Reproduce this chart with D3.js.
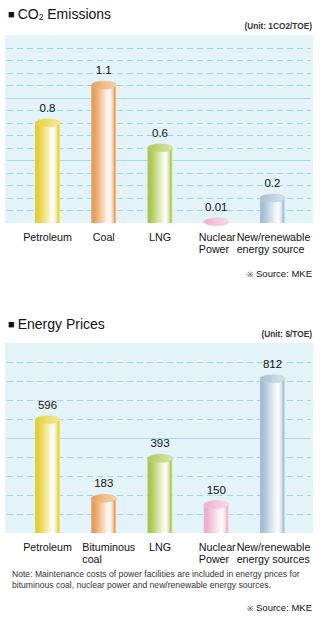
<!DOCTYPE html>
<html>
<head>
<meta charset="utf-8">
<script src="https://cdn.jsdelivr.net/npm/d3@7"></script>
<style>
  html, body { margin: 0; padding: 0; background: #fff; }
  svg { display: block; font-family: "Liberation Sans", Arial, Helvetica, sans-serif; }
</style>
</head>
<body>
<svg id="chart" width="323" height="619"></svg>
<script>
// CO2 emissions by energy source (tCO2/TOE)
const co2Categories = [["Petroleum"], ["Coal"], ["LNG"], ["Nuclear", "Power"], ["New/renewable", "energy source"]];
const co2Values = [0.8, 1.1, 0.6, 0.01, 0.2];
const co2Labels = ["0.8", "1.1", "0.6", "0.01", "0.2"];
const co2Max = 1.5;

// Energy prices by source ($/TOE)
const priceCategories = [["Petroleum"], ["Bituminous", "coal"], ["LNG"], ["Nuclear", "Power"], ["New/renewable", "energy sources"]];
const priceValues = [596, 183, 393, 150, 812];
const priceLabels = ["596", "183", "393", "150", "812"];
const priceMax = 1000;

// Cylinder colours, one per source
const barColors = ["#e4cf32", "#e89e58", "#aac74e", "#eeaec9", "#a3bfd3"];

const svg = d3.select("#chart");
const defs = svg.append("defs");

barColors.forEach((c, i) => {
  const light = d3.interpolateRgb(c, "#ffffff")(0.55);
  const body = defs.append("linearGradient").attr("id", "body" + i)
    .attr("x1", "0%").attr("x2", "100%").attr("y1", "0%").attr("y2", "0%");
  [[0, c], [0.12, c], [0.72, "#ffffff"], [0.86, light], [0.93, c], [1, light]]
    .forEach(([o, col]) => body.append("stop").attr("offset", o).attr("stop-color", col));
  const top = defs.append("linearGradient").attr("id", "top" + i)
    .attr("x1", "0%").attr("x2", "100%").attr("y1", "0%").attr("y2", "0%");
  [[0, c], [0.6, d3.interpolateRgb(c, "#ffffff")(0.35)], [1, light]]
    .forEach(([o, col]) => top.append("stop").attr("offset", o).attr("stop-color", col));
});

function drawChart(cfg) {
  const g = svg.append("g");
  const { top, bottom, left, right } = cfg;

  // section title
  const title = g.append("text").attr("x", 8).attr("y", cfg.titleY)
    .attr("font-size", 14).attr("fill", "#111");
  title.append("tspan").attr("font-size", 11).attr("dy", -1).text("\u25A0");
  title.append("tspan").attr("dx", 3).attr("dy", 1).text(cfg.title);
  if (cfg.titleSub) {
    title.append("tspan").attr("font-size", 8.5).attr("dy", 1).text(cfg.titleSub);
    title.append("tspan").attr("dy", -1).text(cfg.titleRest);
  }

  // unit
  g.append("text").attr("x", 312).attr("y", top - 6).attr("text-anchor", "end")
    .attr("font-size", 8.3).attr("font-weight", "bold").attr("fill", "#333")
    .text(cfg.unit);

  // plot background
  g.append("rect").attr("x", left).attr("y", top)
    .attr("width", right - left).attr("height", bottom - top)
    .attr("fill", "#e4f3f8");

  const y = d3.scaleLinear().domain([0, cfg.max]).range([bottom, top]);
  const x = d3.scalePoint().domain(d3.range(cfg.values.length)).range([47.5, 272.5]);
  const barW = 25;

  // gridlines: dashed every step, solid every fifth
  const ticks = y.ticks(cfg.tickCount).filter(t => t > 0 && t < cfg.max);
  g.append("g").selectAll("line").data(ticks).join("line")
    .attr("x1", left + 2).attr("x2", right - 2)
    .attr("y1", d => Math.round(y(d)) + 0.5).attr("y2", d => Math.round(y(d)) + 0.5)
    .attr("stroke", d => cfg.isMajor(d) ? "#a9dce8" : "#9bd8e6")
    .attr("stroke-width", 1)
    .attr("stroke-dasharray", d => cfg.isMajor(d) ? null : "6,4");

  const rx = barW / 2;
  const ry = 4;
  const bars = g.append("g").selectAll("g").data(cfg.values).join("g");
  bars.append("rect")
    .attr("x", (d, i) => x(i) - rx).attr("width", barW)
    .attr("y", d => y(d)).attr("height", d => bottom - y(d))
    .attr("fill", (d, i) => `url(#body${i})`);
  bars.append("ellipse")
    .attr("cx", (d, i) => x(i)).attr("cy", d => y(d))
    .attr("rx", rx).attr("ry", ry)
    .attr("fill", (d, i) => `url(#top${i})`)
    .attr("stroke", (d, i) => d3.interpolateRgb(barColors[i], "#ffffff")(0.3))
    .attr("stroke-width", 0.6);

  // value labels
  g.append("g").selectAll("text").data(cfg.values).join("text")
    .attr("x", (d, i) => x(i)).attr("y", d => y(d) - ry - 7)
    .attr("text-anchor", "middle").attr("font-size", 11.5).attr("fill", "#111")
    .text((d, i) => cfg.labels[i]);

  // category labels
  const cats = g.append("g").selectAll("text").data(cfg.categories).join("text")
    .attr("font-size", 10.7).attr("fill", "#111")
    .attr("y", bottom + 18);
  cats.each(function (lines, i) {
    const t = d3.select(this);
    const cx = x(i);
    if (lines.length === 1) {
      t.attr("x", cx).attr("text-anchor", "middle").text(lines[0]);
    } else {
      lines.forEach((ln, k) => t.append("tspan").attr("dy", k ? 11.5 : 0).text(ln));
      const w = d3.max(t.selectAll("tspan").nodes(), n => n.getComputedTextLength());
      let x0 = Math.max(cx - w / 2 + (i === 1 ? 5 : 1), 0);
      x0 = Math.min(x0, 317 - w);
      t.selectAll("tspan").attr("x", x0);
    }
  });

  if (cfg.note) {
    const nt = g.append("text").attr("font-size", 8.6).attr("fill", "#333").attr("y", cfg.noteY);
    cfg.note.forEach((ln, k) => nt.append("tspan").attr("x", 12).attr("dy", k ? 11 : 0).text(ln));
  }

  // source
  const src = g.append("text").attr("x", 312).attr("y", cfg.sourceY).attr("text-anchor", "end")
    .attr("font-size", 9.5).attr("fill", "#111");
  src.append("tspan").attr("font-size", 7.5).text("\u203B");
  src.append("tspan").text(" Source: MKE");
}

drawChart({
  title: "CO", titleSub: "2", titleRest: " Emissions", titleY: 19,
  unit: "(Unit: 1CO2/TOE)",
  top: 35, bottom: 223, left: 5, right: 313,
  values: co2Values, labels: co2Labels, categories: co2Categories,
  max: co2Max, tickCount: 15, isMajor: d => Math.abs(d * 2 - Math.round(d * 2)) < 1e-6,
  sourceY: 277
});

drawChart({
  title: "Energy Prices", titleY: 329,
  unit: "(Unit: $/TOE)",
  top: 343, bottom: 533, left: 5, right: 313,
  values: priceValues, labels: priceLabels, categories: priceCategories,
  max: priceMax, tickCount: 10, isMajor: d => d % 500 === 0,
  note: ["Note: Maintenance costs of power facilities are included in energy prices for",
         "bituminous coal, nuclear power and new/renewable energy sources."],
  noteY: 577,
  sourceY: 611
});
</script>
</body>
</html>
